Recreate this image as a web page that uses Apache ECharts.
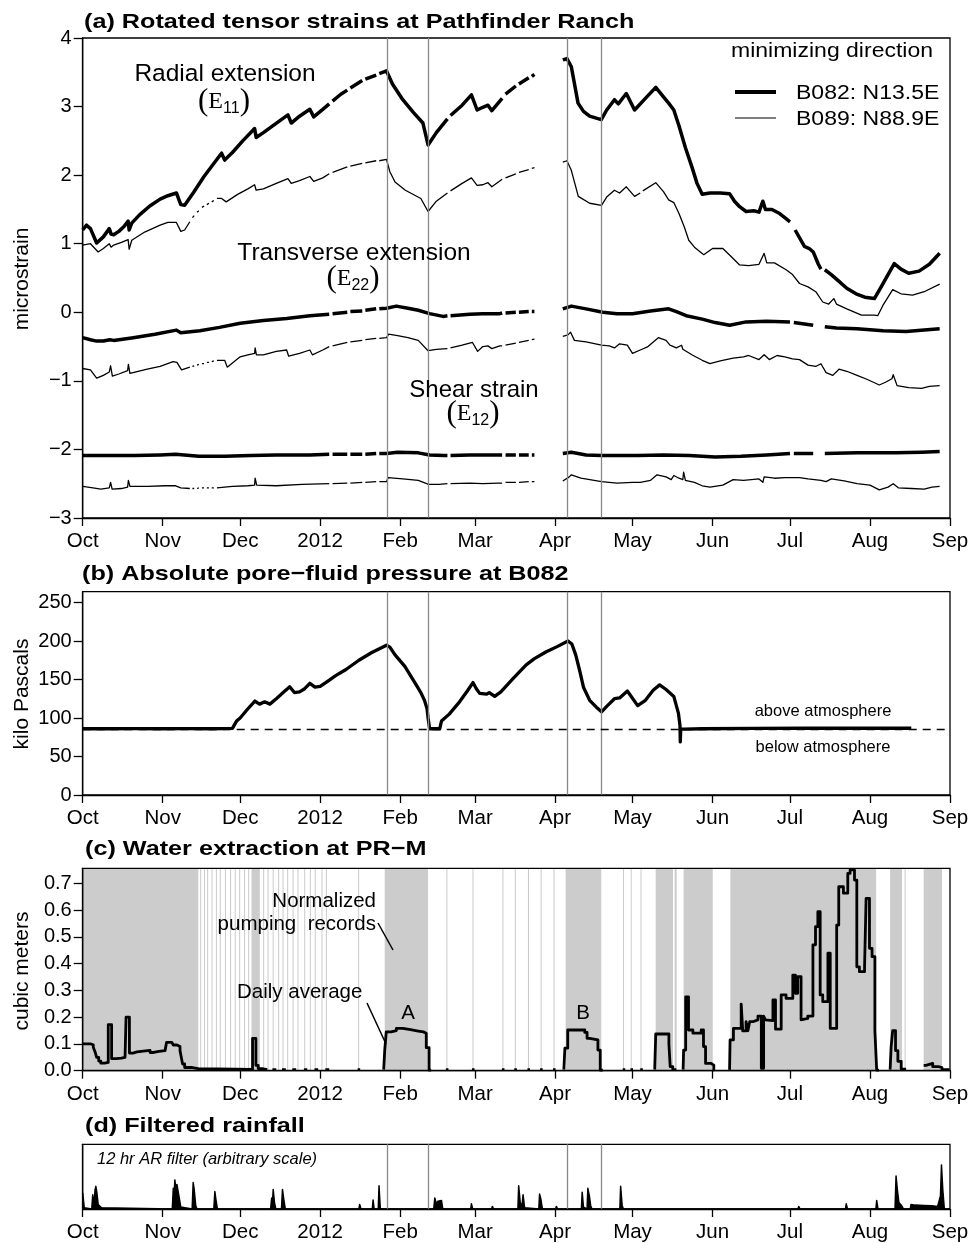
<!DOCTYPE html>
<html>
<head>
<meta charset="utf-8">
<script src="https://cdn.jsdelivr.net/npm/echarts@6/dist/echarts.min.js"></script>
<style>
html, body { margin: 0; padding: 0; background: #fff; }
#chart { width: 974px; height: 1243px; }
</style>
</head>
<body>
<div id="chart"></div>
<script>
// Time is counted in days from 1 Oct 2011 (day 0) to 1 Sep 2012 (day 336).
const monthStarts = [0, 31, 61, 92, 123, 152, 183, 213, 244, 274, 305, 336];
const monthLabels = ['Oct', 'Nov', 'Dec', '2012', 'Feb', 'Mar', 'Apr', 'May', 'Jun', 'Jul', 'Aug', 'Sep'];

// Reference times marked by the grey vertical lines
const eventDays = [117.9, 133.9, 187.9, 200.9];

// ---- (a) rotated tensor strains, microstrain; [day, value], null = no data ----
const e11B082 = [[0,1.20],[1.5,1.27],[3,1.22],[5.4,1.01],[8,1.10],[10.3,1.22],[11,1.14],[12,1.13],[14,1.18],[16,1.25],[17.6,1.33],[18,1.20],[19,1.30],[22,1.42],[26,1.55],[30,1.65],[33,1.70],[36.3,1.74],[38,1.57],[39.5,1.56],[43,1.75],[47,1.98],[51,2.18],[53.8,2.32],[55,2.22],[58,2.33],[62,2.50],[66.6,2.68],[67.2,2.55],[70,2.62],[74,2.73],[79.5,2.88],[80.8,2.76],[84,2.86],[88,2.96],[89.5,2.85],[93,2.96],[95.5,3.04],[95.8,null],[96.8,3.08],[100,3.18],[102.5,3.24],[102.7,null],[103.7,3.27],[108.3,3.38],[108.5,null],[109.5,3.40],[113.7,3.46],[113.9,null],[114.9,3.48],[117.7,3.52],[120,3.33],[124,3.10],[128,2.92],[131.8,2.76],[133.8,2.44],[137,2.62],[141.3,2.82],[141.5,null],[142.5,2.87],[147,3.02],[150.6,3.17],[152.8,2.95],[155,2.99],[157,3.02],[158.5,2.94],[162.5,3.12],[162.8,null],[163.8,3.18],[167.8,3.30],[168,null],[169,3.33],[172.8,3.42],[173.2,null],[174,3.44],[175,3.47],[175.2,null],[186,3.68],[187.6,3.70],[189.3,3.58],[191.9,3.05],[194,2.93],[196.4,2.86],[200.9,2.81],[203,2.95],[206,3.10],[207.5,3.04],[210.6,3.19],[213.8,2.95],[218,3.12],[222,3.28],[225,3.14],[227,3.05],[229,2.95],[231,2.72],[233.5,2.40],[236,2.12],[238,1.88],[240,1.72],[243,1.74],[247,1.74],[250.6,1.73],[252.5,1.62],[254.5,1.54],[257,1.47],[260,1.48],[262,1.46],[263.5,1.62],[264.5,1.50],[267,1.50],[270,1.44],[272,1.38],[274,1.32],[274.4,null],[276,1.20],[279.6,0.96],[281.5,0.93],[283,0.88],[285,0.70],[286,0.63],[286.5,null],[287.5,0.62],[290,0.55],[293,0.45],[296,0.35],[299.6,0.27],[303,0.22],[306.7,0.20],[309,0.35],[312,0.55],[314.4,0.71],[317,0.63],[320,0.57],[324,0.60],[328,0.70],[332,0.86]];

const e11B089 = [[0,0.98],[3,1.00],[6,0.88],[8,0.93],[10.3,1.00],[11,0.95],[12,0.98],[15,1.02],[17.6,1.06],[18,0.92],[19,1.05],[24,1.17],[30,1.27],[33,1.31],[36.3,1.31],[38,1.18],[39.5,1.20],[41.5,1.32],[41.7,null],[42.5,1.38],[43.2,1.41],[43.4,null],[44.3,1.46],[45,1.48],[45.2,null],[46.2,1.53],[47,1.55],[47.2,null],[48.1,1.57],[48.9,1.59],[49.1,null],[50,1.61],[50.8,1.63],[51,null],[52,1.66],[53.8,1.66],[55.6,1.61],[60,1.72],[64,1.80],[66.6,1.86],[67.2,1.78],[70,1.80],[75,1.88],[79.5,1.95],[80.8,1.88],[84,1.92],[88,1.98],[89.5,1.91],[93,1.96],[95.5,2.02],[95.8,null],[96.8,2.04],[102.5,2.12],[102.7,null],[103.7,2.13],[108.3,2.17],[108.5,null],[109.5,2.18],[113.7,2.21],[113.9,null],[114.9,2.21],[117.7,2.23],[119,2.05],[121,1.90],[125,1.78],[129,1.70],[131,1.66],[133.8,1.47],[137,1.62],[141.3,1.74],[141.5,null],[142.5,1.77],[147,1.88],[150.6,1.96],[152.8,1.85],[155,1.86],[157,1.89],[158.5,1.83],[162.5,1.94],[162.8,null],[163.8,1.96],[167.8,2.02],[168,null],[169,2.04],[172.8,2.08],[173.2,null],[174,2.10],[175,2.11],[175.2,null],[186,2.19],[187.6,2.21],[189.3,2.07],[192,1.69],[196.4,1.59],[201,1.56],[203,1.68],[206,1.78],[208,1.74],[210.6,1.83],[213.8,1.69],[216,1.74],[216.2,null],[217,1.77],[222,1.89],[225,1.76],[227,1.64],[229,1.60],[231,1.44],[233,1.25],[234.8,1.05],[237,0.95],[240.6,0.84],[244,0.93],[248,0.93],[251,0.82],[254.5,0.69],[258,0.68],[262,0.70],[264,0.86],[265,0.72],[268,0.72],[272.5,0.62],[275,0.55],[277.7,0.42],[281,0.37],[284,0.30],[286.7,0.15],[289,0.12],[291,0.20],[292,0.12],[296,0.05],[301.7,-0.04],[306.7,-0.04],[308,-0.05],[310,0.10],[313.8,0.33],[317,0.27],[321.5,0.25],[326,0.30],[332,0.41]];

const e22B082 = [[0,-0.37],[3,-0.40],[5.4,-0.42],[8,-0.42],[10.5,-0.40],[12,-0.41],[19.6,-0.37],[28,-0.32],[36.3,-0.26],[38,-0.30],[45.4,-0.27],[53,-0.22],[61,-0.16],[70,-0.12],[79,-0.09],[88,-0.05],[95.5,-0.03],[95.8,null],[96.8,-0.02],[102.5,0.00],[102.7,null],[103.7,0.01],[108.3,0.02],[108.5,null],[109.5,0.03],[113.7,0.05],[113.9,null],[114.9,0.05],[117.7,0.06],[121.5,0.09],[126,0.06],[130,0.03],[134.4,-0.02],[139.6,-0.06],[141.3,-0.05],[141.5,null],[142.5,-0.05],[150,-0.03],[155,-0.02],[161.6,-0.02],[162.5,-0.01],[162.8,null],[163.8,-0.01],[167.8,0.00],[168,null],[169,0.00],[172.8,0.01],[173.2,null],[174,0.01],[175,0.01],[175.2,null],[186,0.05],[189.3,0.09],[195,0.05],[201.5,0.00],[207,-0.02],[213,-0.02],[220,0.02],[227,0.05],[230,0.01],[233.8,-0.05],[240,-0.10],[245,-0.15],[250.6,-0.19],[257,-0.14],[265,-0.13],[274,-0.14],[274.4,null],[275.5,-0.15],[283,-0.19],[286.5,null],[287.5,-0.21],[292,-0.23],[300,-0.24],[310,-0.27],[319,-0.28],[326,-0.26],[332,-0.24]];

const e22B089 = [[0,-0.82],[3,-0.84],[5.4,-0.96],[8,-0.92],[10.3,-0.87],[10.8,-0.78],[11.5,-0.93],[14,-0.90],[17.4,-0.85],[17.7,-0.76],[18.3,-0.89],[25,-0.83],[30,-0.79],[35,-0.72],[36.5,-0.73],[38.3,-0.84],[41.5,-0.80],[41.7,null],[42.5,-0.79],[43.2,-0.78],[43.4,null],[44.3,-0.77],[45,-0.76],[45.2,null],[46.2,-0.75],[47,-0.75],[47.2,null],[48.1,-0.73],[48.9,-0.73],[49.1,null],[50,-0.72],[50.8,-0.71],[51,null],[52,-0.70],[55,-0.70],[56,-0.80],[58,-0.74],[61,-0.65],[64,-0.62],[66.6,-0.60],[66.8,-0.52],[67.3,-0.62],[70,-0.62],[75,-0.57],[79,-0.55],[79.8,-0.64],[84,-0.60],[88,-0.55],[89,-0.62],[93,-0.55],[95.5,-0.50],[95.8,null],[96.8,-0.49],[102.5,-0.44],[102.7,null],[103.7,-0.43],[108.3,-0.41],[108.5,null],[109.5,-0.40],[113.7,-0.38],[113.9,null],[114.9,-0.38],[117.7,-0.37],[118.5,-0.32],[122,-0.34],[126,-0.37],[130,-0.41],[133.8,-0.56],[137,-0.54],[141.3,-0.53],[141.5,null],[142.5,-0.52],[147,-0.48],[151,-0.44],[153,-0.57],[155,-0.50],[157,-0.49],[158.5,-0.53],[161.6,-0.49],[162.5,-0.49],[162.8,null],[163.8,-0.48],[167.8,-0.45],[168,null],[169,-0.44],[172.8,-0.41],[173.2,null],[174,-0.40],[175,-0.39],[175.2,null],[186,-0.35],[188,-0.33],[189,-0.29],[190.5,-0.41],[195,-0.43],[201,-0.48],[204,-0.49],[206,-0.52],[208,-0.46],[211,-0.48],[213,-0.60],[216,-0.55],[219,-0.50],[223,-0.37],[226,-0.41],[227.5,-0.48],[230,-0.52],[232,-0.48],[232.5,-0.54],[236,-0.62],[240,-0.70],[243,-0.75],[247,-0.71],[252,-0.67],[256,-0.65],[258,-0.63],[262,-0.69],[264,-0.62],[266,-0.69],[269,-0.63],[272,-0.65],[275,-0.68],[277.7,-0.69],[281,-0.77],[284,-0.79],[286,-0.75],[288,-0.88],[290.6,-0.92],[293,-0.83],[296,-0.86],[300,-0.92],[304,-0.98],[308.6,-1.06],[311,-1.02],[313.5,-0.97],[314,-0.91],[315.5,-1.07],[320,-1.10],[325,-1.11],[328,-1.08],[332,-1.07]];

const e12B082 = [[0,-2.09],[10,-2.09],[20,-2.09],[30,-2.08],[36,-2.07],[45,-2.10],[55,-2.10],[65,-2.09],[75,-2.08],[88,-2.08],[95.5,-2.07],[95.8,null],[96.8,-2.07],[102.5,-2.07],[102.7,null],[103.7,-2.07],[108.3,-2.07],[108.5,null],[109.5,-2.07],[113.7,-2.06],[113.9,null],[114.9,-2.06],[117.7,-2.06],[122,-2.04],[130,-2.05],[134.4,-2.08],[140,-2.09],[141.3,-2.09],[141.5,null],[142.5,-2.09],[150,-2.08],[160,-2.08],[162.5,-2.08],[162.8,null],[163.8,-2.08],[167.8,-2.08],[168,null],[169,-2.08],[172.8,-2.08],[173.2,null],[174,-2.08],[175,-2.08],[175.2,null],[186,-2.06],[189.3,-2.04],[195,-2.08],[201,-2.09],[215,-2.09],[225,-2.08],[235,-2.09],[245,-2.11],[255,-2.10],[265,-2.08],[274,-2.06],[274.4,null],[275.5,-2.06],[283,-2.06],[286.5,null],[287.5,-2.06],[300,-2.05],[315,-2.05],[325,-2.04],[332,-2.03]];

const e12B089 = [[0,-2.54],[4,-2.56],[7,-2.58],[10.3,-2.56],[10.8,-2.48],[11.4,-2.58],[15,-2.57],[17.4,-2.55],[17.7,-2.45],[18.3,-2.54],[25,-2.54],[32,-2.53],[36,-2.53],[38,-2.56],[41.5,-2.57],[41.7,null],[42.5,-2.57],[43.2,-2.57],[43.4,null],[44.3,-2.57],[45,-2.56],[45.2,null],[46.2,-2.56],[47,-2.56],[47.2,null],[48.1,-2.56],[48.9,-2.56],[49.1,null],[50,-2.56],[50.8,-2.56],[51,null],[52,-2.56],[58,-2.54],[64,-2.53],[66.6,-2.52],[66.8,-2.42],[67.4,-2.52],[75,-2.53],[85,-2.51],[95.5,-2.50],[95.8,null],[96.8,-2.50],[102.5,-2.49],[102.7,null],[103.7,-2.49],[108.3,-2.48],[108.5,null],[109.5,-2.48],[113.7,-2.47],[113.9,null],[114.9,-2.47],[117.7,-2.47],[118.3,-2.41],[124,-2.43],[130,-2.45],[134,-2.51],[138,-2.51],[141.3,-2.50],[141.5,null],[142.5,-2.50],[150,-2.49],[155,-2.50],[161,-2.49],[162.5,-2.49],[162.8,null],[163.8,-2.48],[167.8,-2.48],[168,null],[169,-2.48],[172.8,-2.47],[173.2,null],[174,-2.47],[175,-2.47],[175.2,null],[186,-2.46],[188.5,-2.40],[189.3,-2.37],[193,-2.42],[201,-2.47],[207,-2.49],[213,-2.48],[216,-2.48],[220,-2.45],[222.5,-2.37],[226,-2.40],[228,-2.44],[229,-2.38],[231,-2.42],[232.5,-2.44],[232.8,-2.33],[233.5,-2.45],[237,-2.48],[240,-2.53],[243,-2.55],[248,-2.52],[252,-2.44],[256,-2.45],[262,-2.43],[263.5,-2.48],[264,-2.40],[268,-2.42],[272,-2.41],[277.7,-2.41],[281,-2.43],[286,-2.45],[288,-2.47],[290,-2.43],[295,-2.46],[300,-2.50],[305,-2.52],[308.6,-2.59],[312,-2.55],[314,-2.50],[316,-2.56],[321,-2.57],[326,-2.58],[329,-2.55],[332,-2.54]];

// ---- (b) absolute pore-fluid pressure at B082, kPa ----
const atmosphereKPa = 86;
const porePressure = [[0,86],[10,86],[20,86.3],[30,86],[40,86.2],[50,86],[58,86.5],[59.6,96],[61,100],[64,112],[66.7,122],[68.5,118],[70.5,121],[72.5,118],[75,125],[78,134],[80.2,140.5],[82,133],[84,134],[86,138],[88,145],[90,140],[92,141],[95,148],[98,155],[102,163],[107,175],[112,185],[117.7,194.5],[119,192],[121,182],[124.8,167],[127,155],[129.2,143],[131,133],[132.4,123],[133.4,112],[133.8,100],[134.4,86],[138.3,86],[139,96],[142,105],[146,121],[149,135],[151.2,146],[152.5,138],[153.8,132],[156.5,131],[157.5,133],[159.6,128],[162,134],[166.7,151],[171.8,169],[175,177],[179.6,186],[184,193],[188,200],[189.5,196],[191,182],[192.5,162],[194,140],[196.4,123],[199,114],[201,108],[203,115],[206,125],[208,126],[211,135],[212.5,128],[215,116],[218,123],[221,136],[223.5,143],[226,137],[229,128],[230.8,106],[231.4,90],[231.5,69],[231.7,86],[233,85.5],[240,86],[260,86.5],[280,86.7],[300,86.7],[321,86.7]];

// ---- (c) water extraction at PR-M ----
// Spans [start, end] covered by pumping records
const recordSpans = [[0,44.8],[45.5,45.9],[47,47.4],[48.2,48.6],[49.9,50.3],[51.6,52],[53.1,53.5],[55.1,55.5],[57.1,57.5],[58.9,59.3],[60.6,61],[62.5,62.9],[64.1,64.5],[65.4,68.6],[69.9,70.3],[71.6,72],[73.6,74],[75.7,76.1],[77.4,77.8],[79.2,79.6],[81.3,81.7],[83.2,83.6],[85.8,86.2],[88,88.4],[89.9,90.3],[92.5,92.9],[94.2,94.6],[106.7,107.1],[117,133.8],[140.9,141.3],[151,151.4],[162.6,163],[167.4,167.8],[172.5,172.9],[177.4,177.8],[182.4,182.8],[187.1,200.9],[209.3,209.7],[212.3,212.7],[216.1,216.5],[222,228.7],[229.3,230.1],[232.8,244.1],[250.9,307.4],[312.8,317.4],[318.4,318.8],[325.8,332.9]];

// Daily average extraction, cubic meters; each value holds until the next day listed
const pumpDaily = [[0,0.100],[3,0.097],[4.1,0.088],[4.8,0.070],[5.4,0.050],[6.2,0.036],[7,0.028],[8.5,0.031],[9.9,0.172],[11.2,0.045],[13,0.047],[15,0.050],[16.4,0.056],[16.8,0.200],[18.1,0.066],[19.5,0.070],[21,0.073],[23.5,0.076],[26.1,0.068],[27.5,0.072],[29.5,0.075],[31.9,0.081],[32.5,0.106],[34.5,0.103],[35.1,0.096],[36.5,0.090],[37.7,0.075],[38.3,0.045],[38.7,0.025],[39.5,0.012],[42,0.008],[44.8,0.005],[65.8,0.121],[67.1,0.020],[68,0.008],[69.5,0.004],[71.5,0.004],[71.6,null],
[73.5,0.004],[75,0.004],[75.1,null],[77.2,0.004],[78.7,0.004],[78.8,null],[81.2,0.004],[82.7,0.004],[82.8,null],[85.7,0.004],[87,0.004],[87.1,null],[89.8,0.004],[91.2,0.004],[91.3,null],[94,0.004],[95.5,0.004],[95.6,null],[106.5,0.004],[107.5,0.004],[107.6,null],
[116.6,0.004],[117,0.075],[117.6,0.145],[119.5,0.150],[121.5,0.158],[124,0.153],[127,0.148],[130,0.145],[132,0.140],[133.1,0.086],[134.2,0.002],[135,0.002],[135.1,null],
[140.7,0.004],[141.7,0.004],[141.8,null],[150.8,0.004],[151.8,0.004],[151.9,null],[162.4,0.004],[163.4,0.004],[163.5,null],[167.2,0.004],[168.2,0.004],[168.3,null],[172.3,0.004],[173.3,0.004],[173.4,null],[177.2,0.004],[178.2,0.004],[178.3,null],[182.2,0.004],[183.2,0.004],[183.3,null],
[186.4,0.004],[186.8,0.084],[187.9,0.152],[194.5,0.143],[195.4,0.121],[196.4,0.115],[199.6,0.077],[200.5,0.002],[201.5,0.002],[201.6,null],
[209.2,0.004],[210.2,0.004],[210.3,null],[212.2,0.004],[213.2,0.004],[213.3,null],[216,0.004],[217,0.004],[217.1,null],
[221.6,0.004],[222,0.137],[227.1,0.100],[227.6,0.015],[228.6,0.004],[230,0.004],[230.1,null],
[232.6,0.004],[232.8,0.077],[233.6,0.276],[234.7,0.152],[236.4,0.140],[239.6,0.152],[240.5,0.090],[241.3,0.027],[243.5,0.021],[244.5,0.003],[245,0.003],[245.1,null],
[250.6,0.003],[250.8,0.115],[252.1,0.158],[255.1,0.249],[255.7,0.149],[257,0.183],[257.7,0.149],[258.4,0.183],[259.6,0.190],[261.6,0.204],[262.9,0.009],[263.8,0.204],[264.5,0.190],[265,0.187],[267.4,0.264],[268.4,0.155],[270.6,0.283],[272.5,0.270],[275.1,0.357],[276.1,0.289],[277,0.351],[278.3,0.190],[279,0.195],[280.9,0.204],[282.9,0.470],[283.9,0.538],[284.8,0.594],[285.7,0.283],[286.7,0.258],[288.7,0.439],[289.6,0.158],[292.1,0.544],[292.9,0.687],[294.7,0.663],[296.4,0.737],[297.3,0.750],[299,0.712],[299.9,0.388],[300.9,0.370],[302.9,0.388],[303.5,0.644],[304.8,0.457],[305.8,0.426],[306.9,0.150],[307.6,0.002],[308.5,0.002],[308.6,null],
[312.8,0.004],[313.2,0.090],[313.8,0.150],[314.9,0.075],[315.8,0.035],[317.1,0.006],[319,0.006],[319.1,null],
[325.8,0.020],[326.7,0.027],[329.3,0.015],[331.6,0.012],[332.9,0.004],[335.8,0.004]];

// ---- (d) filtered rainfall, 12 hr AR filter, arbitrary units ----
const rainfall = [[0,0.25],[0.6,0.02],[1,0],[3.5,0],[3.9,0.22],[4.4,0.05],[4.8,0.30],[5.1,0.35],[5.5,0.25],[6,0.07],[7.3,0.02],[8,0],
[34.7,0],[35.1,0.32],[35.4,0.20],[35.7,0.45],[36.1,0.30],[36.5,0.38],[37,0.35],[37.5,0.15],[38,0.03],[38.5,0],
[42.4,0],[42.8,0.41],[43.2,0.30],[43.8,0.05],[44.3,0],
[50.8,0],[51.2,0.27],[51.7,0.12],[52.2,0],
[72.8,0],[73.2,0.17],[73.5,0.08],[73.8,0.30],[74.3,0.10],[74.8,0],
[77,0],[77.4,0.30],[77.9,0.15],[78.5,0],
[107,0],[107.3,0.07],[107.8,0],
[112.2,0],[112.5,0.14],[112.9,0],[114.5,0],[114.8,0.36],[115.3,0],
[136,0],[136.4,0.17],[137,0.08],[137.6,0.12],[138.2,0.09],[139,0.13],[139.5,0],
[150.3,0],[150.6,0.08],[151.1,0],
[158.4,0],[158.7,0.04],[159.2,0],
[168.6,0],[168.9,0.36],[169.5,0.10],[170.2,0.05],[170.6,0.22],[171.2,0.02],[171.6,0],
[176.7,0],[177,0.23],[177.5,0.15],[178.1,0],
[183.2,0],[183.5,0.04],[184,0],
[193.2,0],[193.5,0.26],[194,0.03],[195.4,0],[195.7,0.32],[196.3,0.20],[196.8,0.05],[197.3,0],
[208.1,0],[208.4,0.35],[209,0.05],[209.5,0],
[277.1,0],[277.4,0.04],[277.9,0],
[295.5,0],[295.8,0.08],[296.3,0],
[307.3,0],[307.6,0.13],[308.1,0],
[314.7,0],[315.1,0.51],[315.6,0.30],[316.2,0.10],[316.7,0.12],[317.3,0.05],[318,0],
[320.6,0],[320.9,0.07],[321.6,0.04],[322.5,0.06],[326,0.055],[329,0.05],[331.2,0.04],[332.3,0.20],[332.7,0.68],[333.2,0.30],[333.8,0],[336,0]];

// ---- layout ----
const FONT = '"Liberation Sans", Arial, Helvetica, sans-serif';
const SERIF = '"Liberation Serif", "Times New Roman", serif';
const LEFT = 82.7, WIDTH = 867.3;
const panels = [
  { top: 38, height: 480 },
  { top: 591.7, height: 203.3 },
  { top: 868.3, height: 202.4 },
  { top: 1144.3, height: 65 }
];
const pumpMax = 0.756;

const minus = v => (v < 0 ? '\u2212' + Math.abs(v) : String(v));

function xAxisFor(i) {
  return {
    type: 'value', gridIndex: i, min: 0, max: 336, z: 6,
    axisLine: { show: true, onZero: false, lineStyle: { color: '#000', width: 1.3 } },
    axisTick: { show: true, customValues: monthStarts, length: 8, lineStyle: { color: '#000', width: 1.3 } },
    axisLabel: {
      show: true, customValues: monthStarts, margin: 13,
      formatter: v => monthLabels[monthStarts.indexOf(Math.round(v))],
      fontSize: 20.5, color: '#000', fontFamily: FONT
    },
    splitLine: { show: false }
  };
}

function yAxisFor(i, o) {
  return Object.assign({
    type: 'value', gridIndex: i, z: 6,
    axisLine: { show: true, onZero: false, lineStyle: { color: '#000', width: 1.3 } },
    axisTick: { show: true, length: 9, lineStyle: { color: '#000', width: 1.3 } },
    axisLabel: { show: true, margin: 11, fontSize: 20, color: '#000', fontFamily: FONT },
    splitLine: { show: false }
  }, o);
}

function eventMarks() {
  return {
    silent: true, symbol: ['none', 'none'], label: { show: false },
    lineStyle: { color: '#888', width: 1.3, type: 'solid' },
    emphasis: { disabled: true },
    data: eventDays.map(d => ({ xAxis: d }))
  };
}

function line(data, grid, width, extra) {
  return Object.assign({
    type: 'line', xAxisIndex: grid, yAxisIndex: grid, data,
    symbol: 'none', silent: true, z: 3,
    lineStyle: { color: '#000', width: width, join: 'round', cap: 'butt' }
  }, extra || {});
}

const THICK = 3.5, THIN = 1.3;

const series = [
  // vertical event lines, drawn beneath the curves
  { type: 'line', xAxisIndex: 0, yAxisIndex: 0, data: [], z: 1, silent: true, markLine: eventMarks() },
  line(e11B082, 0, THICK), line(e11B089, 0, THIN),
  line(e22B082, 0, THICK), line(e22B089, 0, THIN),
  line(e12B082, 0, THICK), line(e12B089, 0, THIN),

  { type: 'line', xAxisIndex: 1, yAxisIndex: 1, data: [], z: 1, silent: true,
    markLine: Object.assign(eventMarks(), {
      data: eventDays.map(d => ({ xAxis: d })).concat([{
        yAxis: atmosphereKPa, lineStyle: { color: '#000', width: 1.3, type: [8, 6] }
      }])
    }) },
  line(porePressure, 1, 3.3),

  // pumping-record shading
  {
    type: 'custom', xAxisIndex: 2, yAxisIndex: 2, data: recordSpans, z: 1, silent: true,
    encode: { x: [0, 1] },
    renderItem: (params, api) => {
      const a = api.coord([api.value(0), pumpMax]);
      const b = api.coord([api.value(1), 0]);
      return {
        type: 'rect',
        shape: { x: a[0], y: a[1], width: Math.max(b[0] - a[0], 1), height: b[1] - a[1] },
        style: { fill: '#cccccc' }
      };
    }
  },
  line(pumpDaily, 2, 2.8, { step: 'end' }),

  { type: 'line', xAxisIndex: 3, yAxisIndex: 3, data: [], z: 1, silent: true, markLine: eventMarks() },
  line(rainfall, 3, 1.5, { areaStyle: { color: '#000', opacity: 1 } })
];

// ---- text and annotations ----
function txt(x, y, text, size, o) {
  o = o || {};
  const el = {
    type: 'text', x: x, y: y, silent: true, z: 20,
    style: {
      text: text, fill: '#000', fontFamily: o.family || FONT, fontSize: size,
      fontWeight: o.weight || 'normal', fontStyle: o.italic ? 'italic' : 'normal',
      align: o.align || 'left', verticalAlign: 'middle'
    }
  };
  if (o.scaleX) el.scaleX = o.scaleX;
  if (o.rotation) el.rotation = o.rotation;
  return el;
}

function tensorLabel(x, y, sub) {
  return {
    type: 'text', x: x, y: y, silent: true, z: 20,
    style: {
      text: '{p|(}{e|E}{s|' + sub + '}{p|)}', fill: '#000',
      align: 'center', verticalAlign: 'middle',
      rich: {
        p: { fontFamily: SERIF, fontSize: 31, lineHeight: 30, fill: '#000' },
        e: { fontFamily: SERIF, fontSize: 24, lineHeight: 30, fill: '#000' },
        s: { fontFamily: FONT, fontSize: 16, lineHeight: 17, verticalAlign: 'bottom', fill: '#000' }
      }
    }
  };
}

function seg(x1, y1, x2, y2, w) {
  return { type: 'line', silent: true, z: 20, shape: { x1, y1, x2, y2 },
           style: { stroke: '#000', lineWidth: w } };
}

const TITLE_SCALE = 1.2;
const graphics = [
  txt(84, 22, '(a) Rotated tensor strains at Pathfinder Ranch', 21, { weight: 'bold', scaleX: TITLE_SCALE }),
  txt(82, 574, '(b) Absolute pore\u2212fluid pressure at B082', 21, { weight: 'bold', scaleX: TITLE_SCALE }),
  txt(85, 849, '(c) Water extraction at PR\u2212M', 21, { weight: 'bold', scaleX: TITLE_SCALE }),
  txt(85, 1126.5, '(d) Filtered rainfall', 21, { weight: 'bold', scaleX: TITLE_SCALE }),

  txt(22, 279, 'microstrain', 21, { align: 'center', rotation: Math.PI / 2 }),
  txt(22, 694, 'kilo Pascals', 21, { align: 'center', rotation: Math.PI / 2 }),
  txt(22, 971, 'cubic meters', 21, { align: 'center', rotation: Math.PI / 2 }),

  txt(225, 74.5, 'Radial extension', 24.5, { align: 'center' }),
  tensorLabel(224, 102, '11'),
  txt(354, 253, 'Transverse extension', 24.5, { align: 'center' }),
  tensorLabel(353, 279, '22'),
  txt(474, 390, 'Shear strain', 24, { align: 'center' }),
  tensorLabel(473, 414, '12'),

  txt(731, 52, 'minimizing direction', 19.5, { scaleX: 1.18 }),
  seg(735, 92, 776, 92, 4),
  txt(796, 94, 'B082: N13.5E', 19.5, { scaleX: 1.18 }),
  seg(735, 118, 776, 118, 1.2),
  txt(796, 120, 'B089: N88.9E', 19.5, { scaleX: 1.18 }),

  txt(823, 711, 'above atmosphere', 16.5, { align: 'center' }),
  txt(823, 747, 'below atmosphere', 16.5, { align: 'center' }),

  txt(376, 901, 'Normalized', 20.5, { align: 'right' }),
  txt(376, 924, 'pumping  records', 20.5, { align: 'right' }),
  seg(378, 923, 393, 950, 1.5),
  txt(237, 992, 'Daily average', 20.5),
  seg(367, 1003, 386, 1044, 1.5),
  txt(408, 1013, 'A', 20.5, { align: 'center' }),
  txt(583, 1013, 'B', 20.5, { align: 'center' }),

  txt(97, 1159, '12 hr AR filter (arbitrary scale)', 16.5, { italic: true })
];

const option = {
  animation: false,
  backgroundColor: '#ffffff',
  grid: panels.map(p => ({
    left: LEFT, top: p.top, width: WIDTH, height: p.height,
    show: true, z: 5, borderColor: '#000', borderWidth: 1.3, backgroundColor: 'transparent',
    containLabel: false
  })),
  xAxis: [0, 1, 2, 3].map(xAxisFor),
  yAxis: [
    yAxisFor(0, { min: -3, max: 4, interval: 1, axisLabel: { margin: 11, fontSize: 20, color: '#000', fontFamily: FONT, formatter: minus } }),
    yAxisFor(1, { min: 0, max: 264,
      axisTick: { show: true, length: 9, customValues: [0, 50, 100, 150, 200, 250], lineStyle: { color: '#000', width: 1.3 } },
      axisLabel: { margin: 11, fontSize: 20, color: '#000', fontFamily: FONT, customValues: [0, 50, 100, 150, 200, 250] } }),
    yAxisFor(2, { min: 0, max: pumpMax,
      axisTick: { show: true, length: 9, customValues: [0, 0.1, 0.2, 0.3, 0.4, 0.5, 0.6, 0.7], lineStyle: { color: '#000', width: 1.3 } },
      axisLabel: { margin: 11, fontSize: 20, color: '#000', fontFamily: FONT,
        customValues: [0, 0.1, 0.2, 0.3, 0.4, 0.5, 0.6, 0.7], formatter: v => v.toFixed(1) } }),
    yAxisFor(3, { min: 0, max: 1, axisTick: { show: false }, axisLabel: { show: false } })
  ],
  series: series,
  graphic: graphics
};

const chart = echarts.init(document.getElementById('chart'), null, { renderer: 'canvas' });
chart.setOption(option);
</script>
</body>
</html>
